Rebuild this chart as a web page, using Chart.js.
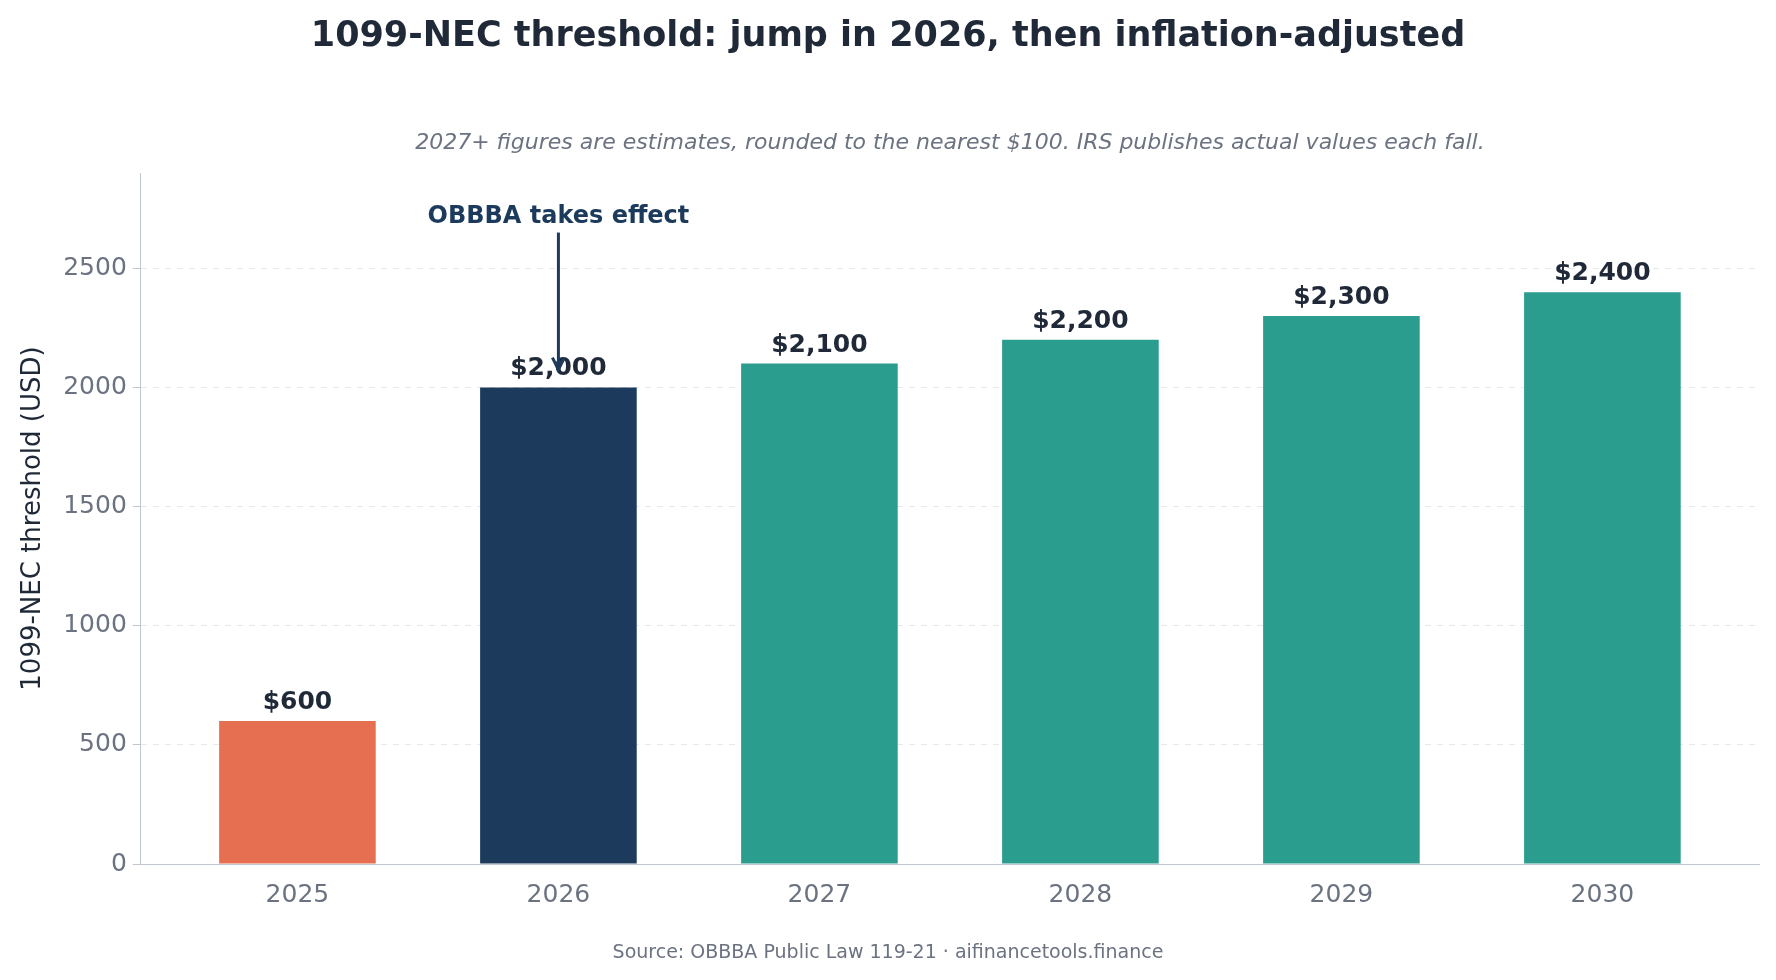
<!DOCTYPE html>
<html><head><meta charset="utf-8">
<script src="https://cdn.jsdelivr.net/npm/chart.js@4.4.1/dist/chart.umd.min.js"></script>
<style>html,body{margin:0;padding:0;background:#fff}#w{width:1776px;height:980px}</style>
</head><body><div id="w"><canvas id="c"></canvas></div>
<script>
const years = ['2025','2026','2027','2028','2029','2030'];
const thresholds = [600, 2000, 2100, 2200, 2300, 2400];
const valueLabels = ['$600','$2,000','$2,100','$2,200','$2,300','$2,400'];
const barColors = ['#E76F51','#1B3A5C','#2A9D8F','#2A9D8F','#2A9D8F','#2A9D8F'];
const yTicks = [0,500,1000,1500,2000,2500];
const annotationText = 'OBBBA takes effect';
const annotationIndex = 1;

const F = 'DejaVu Sans';
const deco = {
  id:'deco',
  afterDatasetsDraw(chart){
    const {ctx, scales:{x,y}, chartArea} = chart;
    ctx.save();
    ctx.fillStyle='#1f2937'; ctx.textAlign='center'; ctx.textBaseline='alphabetic';
    ctx.font=`bold 35px "${F}"`;
    ctx.fillText('1099-NEC threshold: jump in 2026, then inflation-adjusted', 888, 46);
    ctx.font=`italic 22px "${F}"`; ctx.fillStyle='#6b7280';
    ctx.fillText('2027+ figures are estimates, rounded to the nearest $100. IRS publishes actual values each fall.', (chartArea.left+chartArea.right)/2, 149);
    ctx.font=`19px "${F}"`;
    ctx.fillText('Source: OBBBA Public Law 119-21 · aifinancetools.finance', 888, 958);
    ctx.font=`bold 25px "${F}"`; ctx.fillStyle='#1f2937';
    thresholds.forEach((v,i)=>{ ctx.fillText(valueLabels[i], x.getPixelForValue(i), y.getPixelForValue(v)-12); });
    const ax = x.getPixelForValue(annotationIndex);
    ctx.fillStyle='#1B3A5C'; ctx.font=`bold 24px "${F}"`;
    ctx.fillText(annotationText, ax, y.getPixelForValue(2690));
    const y0=y.getPixelForValue(2650), y1=y.getPixelForValue(2075);
    ctx.strokeStyle='#1B3A5C'; ctx.lineWidth=3;
    ctx.beginPath(); ctx.moveTo(ax,y0); ctx.lineTo(ax,y1); ctx.stroke();
    ctx.beginPath(); ctx.moveTo(ax-6,y1-12); ctx.lineTo(ax,y1); ctx.lineTo(ax+6,y1-12); ctx.stroke();
    ctx.restore();
  }
};
new Chart(document.getElementById('c'),{
  type:'bar',
  data:{datasets:[{data:thresholds.map((v,i)=>({x:i,y:v})),backgroundColor:barColors,barPercentage:0.6,categoryPercentage:1}]},
  options:{
    responsive:true,maintainAspectRatio:false,animation:false,
    layout:{padding:{top:173,left:10,right:17,bottom:62}},
    plugins:{legend:{display:false},tooltip:{enabled:false}},
    scales:{
      x:{type:'linear',min:-0.6,max:5.6,offset:false,grid:{display:false},border:{color:'#c0c6d0'},
         afterBuildTicks(s){s.ticks=years.map((_,i)=>({value:i}));},
         ticks:{color:'#6b7280',font:{family:F,size:25},padding:8,callback:(v)=>years[v]}},
      y:{min:0,max:2900,grid:{color:'#e5e7eb',tickColor:'#c0c6d0'},border:{color:'#c0c6d0',dash:[6,6]},
         afterBuildTicks(s){s.ticks=yTicks.map(v=>({value:v}));},
         ticks:{color:'#6b7280',font:{family:F,size:25},padding:6,callback:(v)=>String(v)},
         title:{display:true,text:'1099-NEC threshold (USD)',color:'#1f2937',font:{family:F,size:26},padding:8}}
    }
  },
  plugins:[deco]
});
</script></body></html>
